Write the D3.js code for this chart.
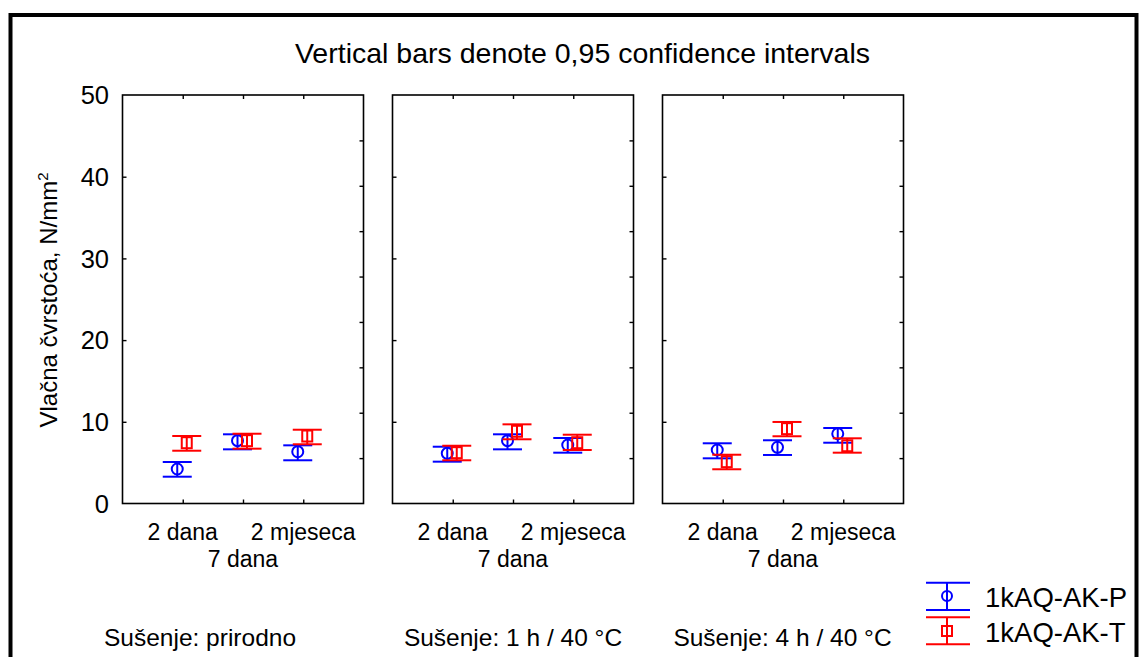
<!DOCTYPE html>
<html><head><meta charset="utf-8">
<script src="https://cdnjs.cloudflare.com/ajax/libs/d3/7.8.5/d3.min.js"></script>
<style>html,body{margin:0;padding:0;background:#fff;}svg{display:block;font-family:Arial,"Liberation Sans",sans-serif;}</style>
</head><body>
<script>
const panels = ["Sušenje: prirodno", "Sušenje: 1 h / 40 °C", "Sušenje: 4 h / 40 °C"];
const categories = ["2 dana", "7 dana", "2 mjeseca"];
const seriesNames = ["1kAQ-AK-P", "1kAQ-AK-T"];
// means [panel][category]
const meanP = [[4.22, 7.69, 6.34], [6.14, 7.69, 7.16], [6.55, 6.88, 8.54]];
const lowP  = [[3.28, 6.63, 5.29], [5.12, 6.63, 6.22], [5.53, 5.94, 7.44]];
const highP = [[5.08, 8.47, 7.12], [6.95, 8.47, 8.02], [7.37, 7.74, 9.24]];
const meanT = [[7.44, 7.69, 8.26], [6.22, 8.84, 7.44], [5.12, 9.16, 7.07]];
const lowT  = [[6.46, 6.71, 7.25], [5.29, 7.86, 6.55], [4.19, 8.23, 6.22]];
const highT = [[8.26, 8.54, 9.03], [7.07, 9.69, 8.42], [5.97, 9.98, 7.98]];
const yTicks = [0, 10, 20, 30, 40, 50];
const title = "Vertical bars denote 0,95 confidence intervals";

const W = 1139, H = 657;
const svg = d3.select("body").append("svg").attr("width", W).attr("height", H);

// outer frame
svg.append("rect").attr("x", 10.5).attr("y", 15).attr("width", 1126).attr("height", 700)
  .attr("fill", "none").attr("stroke", "#000").attr("stroke-width", 4);

svg.append("text").attr("x", 582.5).attr("y", 63).attr("text-anchor", "middle")
  .attr("font-size", 28.5).text(title);

const plotTop = 95, plotBottom = 503.5, pw = 241, gap = 270, left0 = 122.5;
const y = d3.scaleLinear().domain([0, 50]).range([plotBottom, plotTop]);
const yRight = d3.scaleLinear().domain([0, 9]).range([plotBottom, plotTop]);

const colors = {P: "#0000ff", T: "#ff0000"};
const offs = {P: -5.5, T: 4};
const capW = 29;

panels.forEach((pname, i) => {
  const x0 = left0 + gap * i;
  const x = d3.scalePoint().domain(categories).range([x0, x0 + pw]).padding(1);
  const g = svg.append("g");
  g.append("rect").attr("x", x0).attr("y", plotTop).attr("width", pw).attr("height", plotBottom - plotTop)
    .attr("fill", "none").attr("stroke", "#000").attr("stroke-width", 1.6);
  g.append("g").attr("transform", `translate(${x0},0)`)
    .call(d3.axisRight(y).tickValues(yTicks.slice(1, -1)).tickSize(4).tickFormat(""))
    .call(s => s.select(".domain").remove())
    .selectAll("line").attr("stroke-width", 1.4);
  g.append("g").attr("transform", `translate(${x0 + pw},0)`)
    .call(d3.axisLeft(yRight).tickValues(d3.range(1, 9)).tickSize(4).tickFormat(""))
    .call(s => s.select(".domain").remove())
    .selectAll("line").attr("stroke-width", 1.4);
  g.append("g").attr("transform", `translate(0,${plotBottom})`)
    .call(d3.axisTop(x).tickSize(4).tickFormat(""))
    .call(s => s.select(".domain").remove())
    .selectAll("line").attr("stroke-width", 1.4);
  g.append("g").attr("transform", `translate(0,${plotTop})`)
    .call(d3.axisBottom(x).tickSize(4).tickFormat(""))
    .call(s => s.select(".domain").remove())
    .selectAll("line").attr("stroke-width", 1.4);
  categories.forEach((c, k) => {
    g.append("text").attr("x", x(c)).attr("y", k === 1 ? 566.5 : 540)
      .attr("text-anchor", "middle").attr("font-size", 23).text(c);
  });
  [["P", meanP, lowP, highP], ["T", meanT, lowT, highT]].forEach(([key, m, lo, hi]) => {
    const col = colors[key];
    categories.forEach((c, k) => {
      const cx = x(c) + offs[key];
      const gg = g.append("g").attr("stroke", col).attr("fill", "none").attr("stroke-width", 2);
      gg.append("line").attr("x1", cx).attr("x2", cx).attr("y1", y(lo[i][k])).attr("y2", y(hi[i][k]));
      gg.append("line").attr("x1", cx - capW / 2).attr("x2", cx + capW / 2).attr("y1", y(lo[i][k])).attr("y2", y(lo[i][k]));
      gg.append("line").attr("x1", cx - capW / 2).attr("x2", cx + capW / 2).attr("y1", y(hi[i][k])).attr("y2", y(hi[i][k]));
      if (key === "P") {
        gg.append("circle").attr("cx", cx).attr("cy", y(m[i][k])).attr("r", 5.5);
      } else {
        gg.append("rect").attr("x", cx - 5).attr("y", y(m[i][k]) - 5.5).attr("width", 10).attr("height", 11);
      }
    });
  });
  const lx = [200, 513, 782.5][i];
  svg.append("text").attr("x", lx).attr("y", 646).attr("text-anchor", "middle")
    .attr("font-size", 24.5).text(pname);
});

yTicks.forEach(v => {
  svg.append("text").attr("x", 109).attr("y", y(v)).attr("dy", "0.36em")
    .attr("text-anchor", "end").attr("font-size", 25.5).text(v);
});
const yt = svg.append("text").attr("transform", "translate(57,300) rotate(-90)")
  .attr("text-anchor", "middle").attr("font-size", 24);
yt.append("tspan").text("Vlačna čvrstoća, N/mm");
yt.append("tspan").attr("font-size", 15).attr("dy", -9).text("2");

const leg = svg.append("g");
const legItems = [{key: "P", name: seriesNames[0], y1: 582.7, y2: 610, cy: 596, ty: 606.5},
                  {key: "T", name: seriesNames[1], y1: 617.3, y2: 644.3, cy: 631, ty: 641.5}];
legItems.forEach(d => {
  const col = colors[d.key];
  const gg = leg.append("g").attr("stroke", col).attr("fill", "none").attr("stroke-width", 2);
  gg.append("line").attr("x1", 926).attr("x2", 970).attr("y1", d.y1).attr("y2", d.y1);
  gg.append("line").attr("x1", 926).attr("x2", 970).attr("y1", d.y2).attr("y2", d.y2);
  gg.append("line").attr("x1", 947).attr("x2", 947).attr("y1", d.y1).attr("y2", d.y2);
  if (d.key === "P") gg.append("circle").attr("cx", 947).attr("cy", d.cy).attr("r", 5);
  else gg.append("rect").attr("x", 942).attr("y", d.cy - 5).attr("width", 10).attr("height", 10);
  leg.append("text").attr("x", 985).attr("y", d.ty).attr("font-size", 27.5).text(d.name);
});
</script>
</body></html>
